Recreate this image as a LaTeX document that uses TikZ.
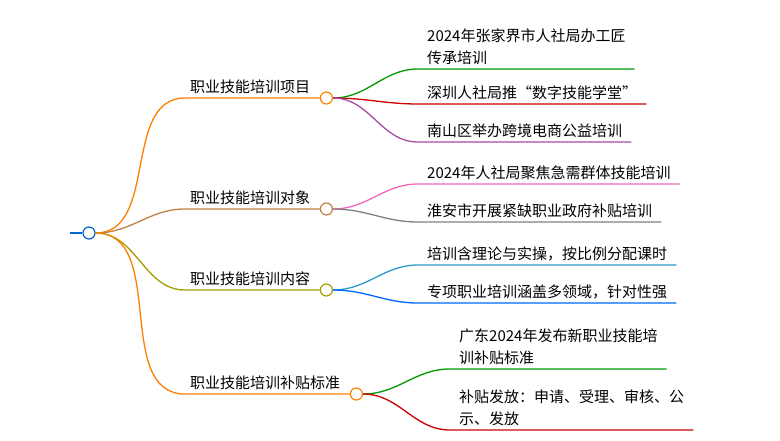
\documentclass[tikz,border=0pt]{standalone}
\usepackage{fontspec}
\setmainfont{Noto Sans CJK SC}
\begin{document}
\begin{tikzpicture}[x=1pt,y=-1pt,
    lbl/.style={anchor=south west, inner xsep=5pt, inner ysep=4pt, font=\fontsize{15}{22}\selectfont, align=left},
    sub/.style={lbl, inner xsep=9pt},
    dot/.style={circle, draw, fill=white, line width=1.2pt, minimum size=12pt, inner sep=0pt},
    edge/.style={line width=1.3pt}]
    \useasboundingbox (0,0) rectangle (780,441);

    \node[dot, draw=blue!50!cyan!80!black] (root) at (89,233) {};
    \coordinate (rl) at (70,233);

    % first level
    \node[lbl] (p1) at (185,98) {职业技能培训项目};
    \node[lbl] (p2) at (185,209) {职业技能培训对象};
    \node[lbl] (p3) at (185,290) {职业技能培训内容};
    \node[lbl] (p4) at (185,394) {职业技能培训补贴标准};

    \node[dot, draw=orange] (c1) at ([xshift=11pt]p1.south east) {};
    \node[dot, draw=brown] (c2) at ([xshift=11pt]p2.south east) {};
    \node[dot, draw=olive!80!yellow] (c3) at ([xshift=11pt]p3.south east) {};
    \node[dot, draw=orange] (c4) at ([xshift=11pt]p4.south east) {};

    % second level
    \node[sub] (a1) at (418,69) {2024年张家界市人社局办工匠\\传承培训};
    \node[sub] (a2) at (418,104) {深圳人社局推“数字技能学堂”};
    \node[sub] (a3) at (418,142) {南山区举办跨境电商公益培训};
    \node[sub] (b1) at (418,184) {2024年人社局聚焦急需群体技能培训};
    \node[sub] (b2) at (418,222) {淮安市开展紧缺职业政府补贴培训};
    \node[sub] (d1) at (418,265) {培训含理论与实操，按比例分配课时};
    \node[sub] (d2) at (418,303) {专项职业培训涵盖多领域，针对性强};
    \node[sub] (e1) at (450,369) {广东2024年发布新职业技能培\\训补贴标准};
    \node[sub] (e2) at (450,430) {补贴发放：申请、受理、审核、公\\示、发放};

    \draw[edge, blue!50!cyan!80!black] (rl) -- (root);
    \draw[edge, orange] (root.east) to[out=0,in=180] (p1.south west) -- (c1);
    \draw[edge, brown] (root.east) to[out=0,in=180] (p2.south west) -- (c2);
    \draw[edge, olive!80!yellow] (root.east) to[out=0,in=180] (p3.south west) -- (c3);
    \draw[edge, orange] (root.east) to[out=0,in=180] (p4.south west) -- (c4);

    \draw[edge, green!60!black] (c1.east) to[out=0,in=180] (a1.south west) -- (a1.south east);
    \draw[edge, red!80!black] (c1.east) to[out=0,in=180] (a2.south west) -- (a2.south east);
    \draw[edge, violet!70] (c1.east) to[out=0,in=180] (a3.south west) -- (a3.south east);
    \draw[edge, magenta!60] (c2.east) to[out=0,in=180] (b1.south west) -- (b1.south east);
    \draw[edge, gray] (c2.east) to[out=0,in=180] (b2.south west) -- (b2.south east);
    \draw[edge, cyan!80!black] (c3.east) to[out=0,in=180] (d1.south west) -- (d1.south east);
    \draw[edge, blue!60!cyan] (c3.east) to[out=0,in=180] (d2.south west) -- (d2.south east);
    \draw[edge, green!60!black] (c4.east) to[out=0,in=180] (e1.south west) -- (e1.south east);
    \draw[edge, red!80!black] (c4.east) to[out=0,in=180] (e2.south west) -- (e2.south east);

    \foreach \n in {root,c1,c2,c3,c4} \node[dot, draw=none, fill=white, minimum size=10pt] at (\n) {};
\end{tikzpicture}
\end{document}
